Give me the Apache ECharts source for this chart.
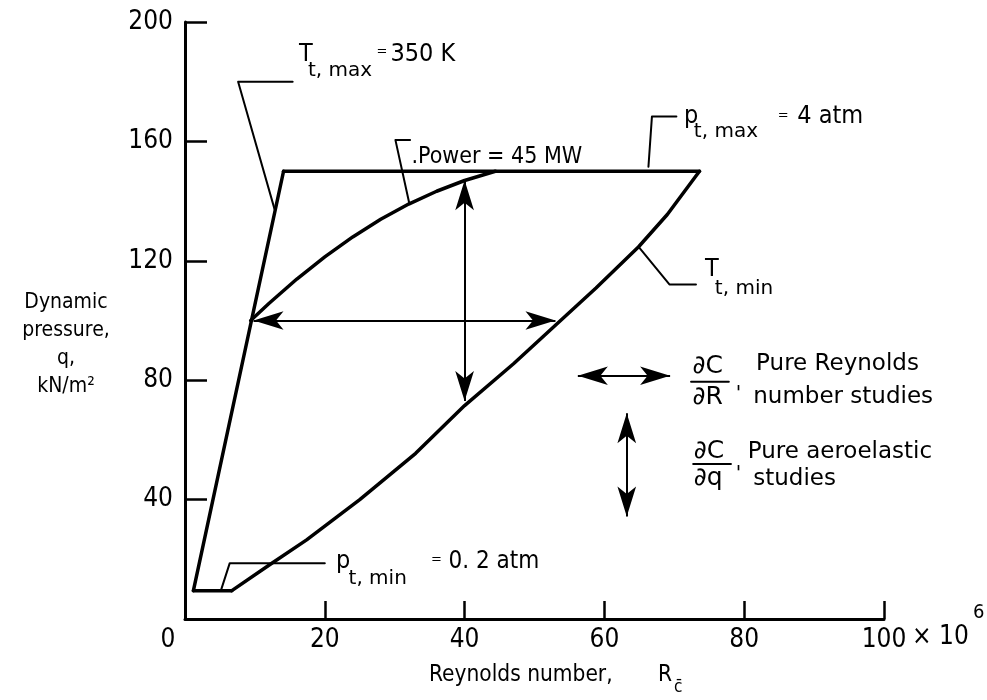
<!DOCTYPE html>
<html>
<head>
<meta charset="utf-8">
<script src="https://cdn.jsdelivr.net/npm/echarts@6/dist/echarts.min.js"></script>
<style>html,body{margin:0;background:#fff}#chart{width:987px;height:700px}</style>
</head>
<body>
<div id="chart"></div>
<script>
const NARROW = "'DejaVu Sans Condensed','Liberation Sans Narrow','Roboto Condensed',Roboto,sans-serif";
const WIDE = "'DejaVu Sans',Roboto,sans-serif";

// boundaries of the tunnel envelope (R x 1e6, q kN/m2)
const pMinLine = [[1.2, 9.5], [6.7, 9.5]];
const tMaxLine = [[1.2, 9.5], [14.1, 150]];
const pMaxLine = [[14.1, 150], [73.6, 150]];
const tMinCurve = [[6.7, 9.5], [12, 18], [17.4, 26.5], [25, 40], [33, 55.5], [40, 71.5], [47, 85.5],
  [53.5, 99.5], [58.8, 110.9], [64.9, 124.7], [69, 135.5], [73.6, 150]];
const powerCurve = [[9.4, 100], [12, 105.7], [16, 113.9], [20, 121.3], [24, 128], [28, 133.9],
  [32, 139], [36, 143.3], [40, 146.9], [44.4, 150]];

// leader lines from the labels
const tMaxLeader = [[12.8, 137.4], [7.6, 180], [15.4, 180]];
const powerLeader = [[32.1, 139.1], [30.1, 160.5], [32.2, 160.5]];
const pMaxLeader = [[66.3, 151.5], [66.8, 168.3], [70.3, 168.3]];
const tMinLeader = [[64.9, 124.7], [69.3, 112.1], [73.1, 112.1]];
const pMinLeader = [[5.2, 10], [6.4, 18.7], [20, 18.7]];
const fractionBars = [[[72.4, 79.5], [77.8, 79.5]], [[72.7, 51.9], [78.1, 51.9]]];

// double arrows: [from, to]
const arrows = [
  [[9.8, 100], [53, 100]],
  [[40, 147], [40, 73]],
  [[56.2, 81.5], [69.4, 81.5]],
  [[63.2, 68.9], [63.2, 34.3]]
];

// text notes: x, y, text, font size, face (n = narrow, w = wide)
const notes = [
  [16.3, 189, 'T', 25, 'n'], [17.6, 183.5, 't, max', 20, 'w'], [27.4, 190, '=', 13, 'w'], [29.4, 189, '350 K', 25, 'n'],
  [32.4, 154.8, '.Power = 45 MW', 23, 'n'],
  [71.4, 168.3, 'p', 25, 'n'], [72.8, 163.2, 't, max', 20, 'w'], [84.8, 168.8, '=', 13, 'w'], [87.6, 168.2, '4 atm', 25, 'n'],
  [74.4, 117, 'T', 25, 'n'], [75.8, 110.5, 't, min', 20, 'w'],
  [21.6, 19.2, 'p', 25, 'n'], [23.4, 13.6, 't, min', 20, 'w'], [35.2, 20, '=', 13, 'w'], [37.7, 19.1, '0. 2 atm', 24, 'n'],
  [72.6, 84.5, '∂C', 25, 'w'], [72.6, 74.2, '∂R', 25, 'w'], [78.8, 75.5, "'", 20, 'w'],
  [81.7, 85.5, 'Pure Reynolds', 23, 'w'], [81.3, 74.2, 'number studies', 23, 'w'],
  [72.8, 56, '∂C', 25, 'w'], [72.8, 47, '∂q', 25, 'w'], [78.8, 48.5, "'", 20, 'w'],
  [80.5, 56, 'Pure aeroelastic', 23, 'w'], [81.3, 47, 'studies', 23, 'w']
];

const xTicks = [0, 20, 40, 60, 80, 100];
const yTicks = [40, 80, 120, 160, 200];

function lineSeries(data, width) {
  return {
    type: 'line', data: data, symbol: 'none', silent: true, animation: false,
    lineStyle: { color: '#000', width: width, cap: 'round', join: 'round' }
  };
}

const chart = echarts.init(document.getElementById('chart'));
const option = {
  backgroundColor: '#fff',
  animation: false,
  grid: { left: 185, right: 103, top: 22, bottom: 81 },
  xAxis: {
    type: 'value', min: 0, max: 100, interval: 20,
    axisLine: { lineStyle: { color: '#000', width: 3 } },
    axisTick: { inside: true, length: 18, lineStyle: { color: '#000', width: 2.5 } },
    splitLine: { show: false },
    axisLabel: {
      color: '#000', fontSize: 26, fontFamily: NARROW, margin: 8,
      formatter: v => (xTicks.indexOf(v) === 0 ? '{z|0}' : String(v)),
      rich: { z: { fontSize: 26, fontFamily: NARROW, color: '#000', padding: [0, 34, 0, 0] } }
    }
  },
  yAxis: {
    type: 'value', min: 0, max: 200, interval: 40,
    axisLine: { lineStyle: { color: '#000', width: 3 } },
    axisTick: { inside: true, length: 22, lineStyle: { color: '#000', width: 2.5 } },
    splitLine: { show: false },
    axisLabel: { color: '#000', fontSize: 26, fontFamily: NARROW, margin: 12, showMinLabel: false }
  },
  series: [
    lineSeries(pMinLine, 3.5), lineSeries(tMaxLine, 3.5), lineSeries(pMaxLine, 3.5),
    lineSeries(tMinCurve, 3.5), lineSeries(powerCurve, 3.5),
    lineSeries(tMaxLeader, 2), lineSeries(powerLeader, 2), lineSeries(pMaxLeader, 2),
    lineSeries(tMinLeader, 2), lineSeries(pMinLeader, 2),
    lineSeries(fractionBars[0], 2), lineSeries(fractionBars[1], 2),
    {
      type: 'line', data: [], silent: true,
      markLine: {
        silent: true, animation: false, symbol: ['arrow', 'arrow'],
        lineStyle: { color: '#000', width: 2, type: 'solid' },
        label: { show: false },
        data: arrows.map(a => [
          { coord: a[0], symbolSize: [14, 30] },
          { coord: a[1], symbolSize: [14, 30] }
        ])
      }
    },
    {
      type: 'scatter', symbolSize: 0, clip: false, silent: true,
      itemStyle: { opacity: 1 },
      data: notes.map(n => ({
        value: [n[0], n[1]], name: n[2],
        label: { fontSize: n[3], fontFamily: n[4] === 'w' ? WIDE : NARROW }
      })),
      label: { show: true, position: 'right', distance: 0, color: '#000', opacity: 1, formatter: p => p.name }
    }
  ],
  graphic: [
    { type: 'text', left: 912, top: 624, style: { text: '× 10', fontSize: 26, fontFamily: NARROW, fill: '#000' } },
    { type: 'text', left: 973, top: 603, style: { text: '6', fontSize: 20, fontFamily: NARROW, fill: '#000' } },
    { type: 'text', left: 429, top: 664, style: { text: 'Reynolds number,', fontSize: 22.5, fontFamily: NARROW, fill: '#000' } },
    { type: 'text', left: 658, top: 664, style: { text: 'R', fontSize: 22.5, fontFamily: NARROW, fill: '#000' } },
    { type: 'text', left: 674, top: 679, style: { text: 'c̄', fontSize: 17, fontFamily: NARROW, fill: '#000' } },
    {
      type: 'text', x: 66, y: 289,
      style: { text: 'Dynamic\npressure,\nq,\nkN/m²', fontSize: 21, lineHeight: 28, align: 'center', fontFamily: NARROW, fill: '#000' }
    }
  ]
};
chart.setOption(option);
</script>
</body>
</html>
